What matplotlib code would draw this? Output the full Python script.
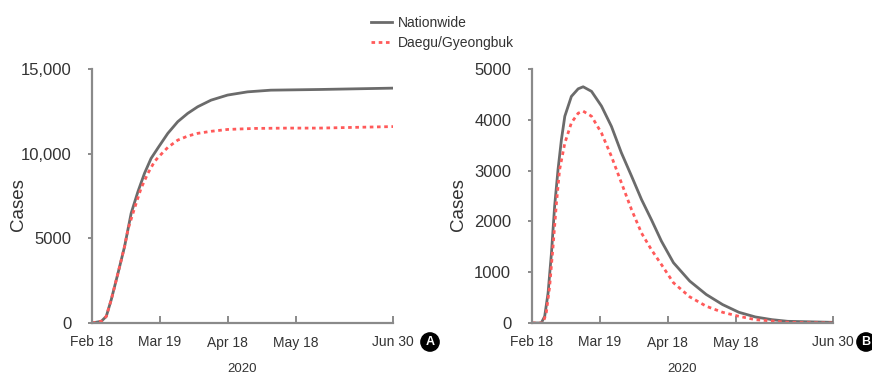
import numpy as np
import matplotlib
matplotlib.use('Agg')
import matplotlib.pyplot as plt

plt.rcParams['font.family'] = ['Liberation Sans', 'DejaVu Sans']
plt.rcParams['font.size'] = 11

# days since Feb 18, 2020
tick_days = [0, 30, 60, 90, 133]
tick_labels = ['Feb 18', 'Mar 19', 'Apr 18', 'May 18', 'Jun 30']

# panel A: cumulative cases
cum_nat_days = [0, 4.1, 6.3, 8.5, 11.5, 14.4, 17.3, 20.3, 23.2, 26.1, 29.5, 33.5,
                37.9, 42.3, 46.7, 52.6, 59.9, 68.7, 79, 100.4, 133]
cum_nat = [0, 100, 390, 1375, 2950, 4520, 6480, 7760, 8840, 9720, 10410, 11200,
           11890, 12380, 12770, 13160, 13460, 13650, 13750, 13790, 13870]

cum_dg_days = [0, 4.1, 6.3, 8.5, 11.5, 14.4, 15.9, 18.8, 21.7, 24.7, 27.6, 29.5,
               33.5, 37.9, 42.3, 46.7, 52.6, 59.9, 71.7, 86.3, 100.4, 133]
cum_dg = [0, 100, 390, 1375, 2950, 4520, 5530, 6780, 7960, 8840, 9530, 9820,
          10370, 10800, 11040, 11200, 11320, 11430, 11490, 11510, 11510, 11600]

# panel B: active cases
act_nat_days = [0, 4.1, 5.6, 7.1, 8.6, 10, 11.5, 13, 14.5, 17.4, 20.4, 22.6, 26.3,
                30.7, 35.1, 39.5, 44, 48.4, 52.8, 57.2, 62.5, 69.7, 77, 84.2,
                91.4, 98.7, 106, 113, 133]
act_nat = [0, 0, 130, 590, 1380, 2300, 3020, 3610, 4070, 4460, 4610, 4650, 4560,
           4270, 3870, 3350, 2890, 2430, 2030, 1610, 1187, 825, 561, 363,
           211, 119, 66, 33, 13]

act_dg_days = [0, 4.9, 6.3, 7.8, 9.3, 10.8, 12.2, 14.5, 17.4, 20.4, 22.6, 26.3,
               30.7, 35.1, 39.5, 44, 48.4, 52.8, 57.2, 62.5, 69.7, 77, 84.2,
               91.4, 98.7, 113, 133]
act_dg = [0, 0, 200, 720, 1510, 2360, 3020, 3540, 3940, 4130, 4170, 4070,
          3740, 3280, 2760, 2230, 1770, 1440, 1150, 792, 515, 330, 211,
          132, 66, 13, 0]

nat_colour = '#6b6b6b'
dg_colour = '#ff5a5a'
axis_colour = '#8a8a8a'
text_colour = '#333333'

fig = plt.figure(figsize=(8.72, 3.81), dpi=100)
ax_a = fig.add_axes([92/872, 1 - 323/381, 301/872, 254/381])
ax_b = fig.add_axes([532/872, 1 - 323/381, 301/872, 254/381])

h1, = ax_a.plot(cum_nat_days, cum_nat, color=nat_colour, linewidth=2)
h2, = ax_a.plot(cum_dg_days, cum_dg, color=dg_colour, linewidth=2,
                linestyle=(0, (1.3, 1.3)))
ax_b.plot(act_nat_days, act_nat, color=nat_colour, linewidth=2)
ax_b.plot(act_dg_days, act_dg, color=dg_colour, linewidth=2,
          linestyle=(0, (1.3, 1.3)))

ax_a.set_ylim(0, 15000)
ax_a.set_yticks([0, 5000, 10000, 15000])
ax_a.set_yticklabels(['0', '5000', '10,000', '15,000'])
ax_b.set_ylim(0, 5000)
ax_b.set_yticks([0, 1000, 2000, 3000, 4000, 5000])

for ax in (ax_a, ax_b):
    ax.set_xlim(0, 133)
    ax.set_xticks(tick_days)
    ax.set_xticklabels(tick_labels)
    for side in ('top', 'right'):
        ax.spines[side].set_visible(False)
    for side in ('left', 'bottom'):
        ax.spines[side].set_color(axis_colour)
        ax.spines[side].set_linewidth(1.6)
    ax.tick_params(axis='y', direction='out', length=3, width=1.4,
                   color=axis_colour, pad=12, labelsize=12, labelcolor=text_colour)
    ax.tick_params(axis='x', direction='in', length=5, width=1.4,
                   color=axis_colour, pad=9, labelsize=10, labelcolor=text_colour)
    ax.set_xlabel('2020', fontsize=9.5, color=text_colour, labelpad=10)
    ax.set_ylabel('Cases', fontsize=13.5, color=text_colour)
    ax.yaxis.set_label_coords(-0.215, 0.465)

fig.legend(handles=[h1, h2], labels=['Nationwide', 'Daegu/Gyeongbuk'],
           loc='upper left', bbox_to_anchor=(371/872, 1 - 16/381),
           frameon=False, fontsize=10, handlelength=1.5, handletextpad=0.4,
           labelspacing=0.45, borderpad=0, borderaxespad=0,
           labelcolor=text_colour)

for label, x in (('A', 430), ('B', 866)):
    fig.text(x/872, 1 - 342/381, label, color='white', fontsize=9,
             fontweight='bold', ha='center', va='center',
             bbox=dict(boxstyle='circle,pad=0.25', fc='black', ec='black'))

plt.savefig('out.png', dpi=100)
plt.close()
